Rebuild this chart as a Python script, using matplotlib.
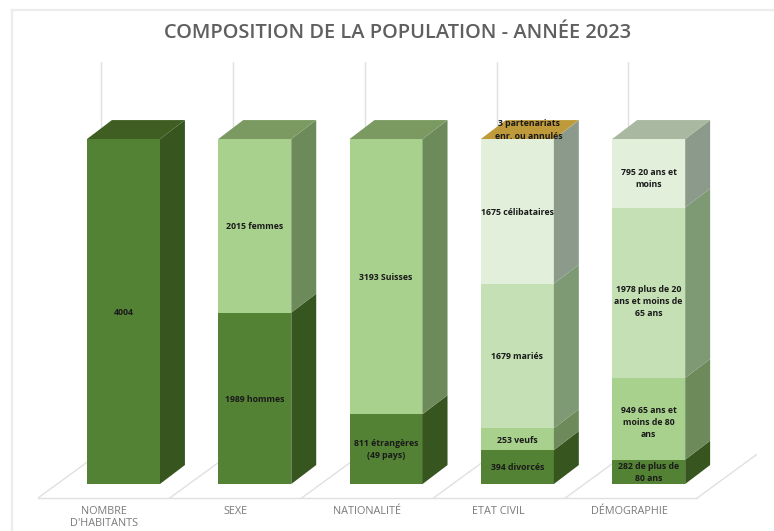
import numpy as np
import matplotlib
matplotlib.use("Agg")
import matplotlib.pyplot as plt
from matplotlib.lines import Line2D
from matplotlib.patches import Polygon

plt.rcParams['font.family'] = ['Open Sans', 'DejaVu Sans']

# data
categories = ["NOMBRE\nD'HABITANTS", "SEXE", "NATIONALITÉ", "ETAT CIVIL", "DÉMOGRAPHIE"]
habitants_vals = [4004]
sexe_vals = [1989, 2015]
nation_vals = [811, 3193]
civil_vals = [394, 253, 1679, 1675, 3]
demo_vals = [282, 949, 1978, 795]

habitants_txt = ["4004"]
sexe_txt = ["1989 hommes", "2015 femmes"]
nation_txt = ["811 étrangères\n(49 pays)", "3193 Suisses"]
civil_txt = ["394 divorcés", "253 veufs", "1679 mariés", "1675 célibataires", "3 partenariats\nenr. ou annulés"]
demo_txt = ["282 de plus de\n80 ans", "949 65 ans et\nmoins de 80\nans", "1978 plus de 20\nans et moins de\n65 ans", "795 20 ans et\nmoins"]

# front, side, top
dark = ('#548235', '#37551f', '#3f5f22')
mid = ('#a9d18e', '#6c8a5a', '#7a9a62')
light = ('#c5e0b4', '#7d9a74', '#8aa67c')
pale = ('#e2efda', '#8b9a8a', '#a9b8a0')
gold = ('#bf9a3a', '#8b9a8a', '#bf9a3a')

habitants_col = [dark]
sexe_col = [dark, mid]
nation_col = [dark, mid]
civil_col = [dark, mid, light, pale, gold]
demo_col = [dark, mid, light, pale]

stacks = [(habitants_vals, habitants_txt, habitants_col),
          (sexe_vals, sexe_txt, sexe_col),
          (nation_vals, nation_txt, nation_col),
          (civil_vals, civil_txt, civil_col),
          (demo_vals, demo_txt, demo_col)]

# figure
fig = plt.figure(figsize=(7.74, 5.31), dpi=100)
ax = fig.add_axes([38/774, 1-498/531, (757-38)/774, (498-62)/531])
ax.set_xlim(-0.651, 4.825)
ax.set_ylim(-162.5, 4898)
for s in ax.spines.values():
    s.set_visible(False)
ax.set_yticks([])

# faint frame of the pasted picture, top and left only
frame_c = '#ececec'
fig.add_artist(Line2D([12/774, 1], [1-10/531, 1-10/531], color=frame_c, lw=1.6))
fig.add_artist(Line2D([12/774, 12/774], [0, 1-10/531], color=frame_c, lw=1.6))

w = 0.278      # half width of a bar
dx = 0.19      # depth of a bar
dy = 220
grid_c = '#e0e0e0'

# floor and walls
x0 = -0.651
fx, fy = 0.48, 534
ax.plot([x0, x0+5.02], [-162.5, -162.5], color=grid_c, lw=1, clip_on=False, zorder=1)
for i in range(6):
    xb = x0 + i*1.004
    ax.plot([xb, xb+fx], [-162.5, -162.5+fy], color=grid_c, lw=1, zorder=1)
    ax.plot([xb+fx, xb+fx], [-162.5+fy, 4898], color=grid_c, lw=1, zorder=1)

# bars
label_nudge = {(4, 2): -8*11.6, (4, 1): -3*11.6, (4, 3): -4.5*11.6}
for i, (vals, txts, cols) in enumerate(stacks):
    bottoms = np.concatenate([[0], np.cumsum(vals)[:-1]])
    for j, (v, b, t, c) in enumerate(zip(vals, bottoms, txts, cols)):
        l, r = i-w, i+w
        ax.bar(i, v, width=2*w, bottom=b, color=c[0], zorder=3)
        ax.add_patch(Polygon([(r, b), (r+dx, b+dy), (r+dx, b+v+dy), (r, b+v)], fc=c[1], ec='none', zorder=3))
        if j == len(vals)-1:
            ax.add_patch(Polygon([(l, b+v), (l+dx, b+v+dy), (r+dx, b+v+dy), (r, b+v)], fc=c[2], ec='none', zorder=3))
        if v < 10:
            # too thin for its label, sits on the top face
            ax.text(i+0.09, b+v+105, t, ha='center', va='center', fontsize=6.3, fontweight='bold',
                    color='#1a1a1a', linespacing=1.45, zorder=5)
        else:
            ax.text(i, b+v/2+label_nudge.get((i, j), 0)-10, t, ha='center', va='center', fontsize=6.3,
                    fontweight='bold', color='#1a1a1a', linespacing=1.45, zorder=5)

ax.set_xticks(np.arange(5)-0.149)
ax.set_xticklabels(categories, fontsize=7.8, color='#7a7a7a', linespacing=1.1)
ax.tick_params(axis='x', length=0, pad=6)

fig.text(398/774, 1-33.5/531, "COMPOSITION DE LA POPULATION - ANNÉE 2023", ha='center', va='center',
         fontsize=14.4, fontweight='semibold', color='#5f5f5f')

fig.savefig("out.png", dpi=100)
